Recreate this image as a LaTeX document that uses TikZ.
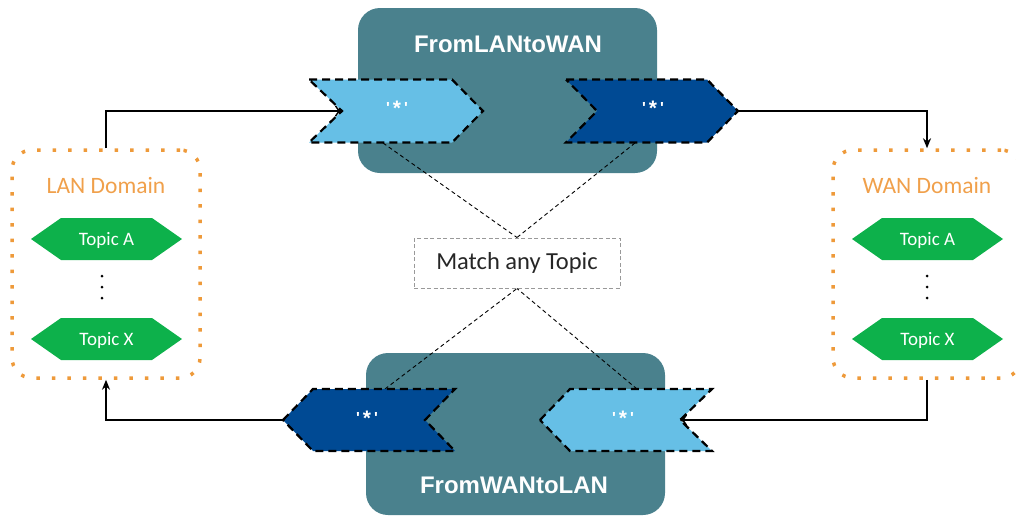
\documentclass[tikz,border=0pt]{standalone}
\usepackage{fontspec}
\setmainfont{Carlito}
\newfontfamily\arialfont{Liberation Sans}
\usetikzlibrary{arrows.meta,calc}
\definecolor{tealbox}{HTML}{4A818D}
\definecolor{lightchev}{HTML}{66BFE6}
\definecolor{darkchev}{HTML}{004A94}
\definecolor{topicgreen}{HTML}{0DB14B}
\definecolor{domorange}{HTML}{F0A04B}
\definecolor{dotorange}{HTML}{EE9A3A}
\tikzset{
  procbox/.style={fill=tealbox, rounded corners=22pt, inner sep=0pt},
  proctitle/.style={text=white, font=\arialfont\bfseries\fontsize{24}{28}\selectfont, inner sep=0pt},
  chevline/.style={draw=black, line width=2.2pt, dash pattern=on 8pt off 5pt},
  startext/.style={text=white, font=\arialfont\bfseries\fontsize{16}{18}\selectfont, inner sep=0pt},
  dombox/.style={draw=dotorange, line width=3.5pt, dash pattern=on 3.5pt off 12pt, rounded corners=20pt, inner sep=0pt, minimum width=188pt, minimum height=228pt},
  domlabel/.style={text=domorange, font=\fontsize{23.5}{28}\selectfont, inner sep=0pt},
  topictext/.style={text=white, font=\fontsize{19}{22}\selectfont, inner sep=0pt},
  matchbox/.style={draw=gray!80, line width=1pt, dash pattern=on 4pt off 2.5pt, font=\fontsize{24.5}{28}\selectfont, text=black!85, minimum width=206pt, minimum height=50pt, inner sep=0pt},
  link/.style={draw=black, line width=0.9pt, dash pattern=on 4pt off 3pt},
  flow/.style={draw=black, line width=2pt},
  chevtip/.style={-{To[length=7pt,width=11pt,line width=1.4pt]}},
  domtip/.style={-{Stealth[length=10pt,width=8pt]}}
}
\newcommand{\hexagonat}[2]{%
  \fill[topicgreen] ($(#1,#2)+(-75.5,0)$) -- ($(#1,#2)+(-45.5,-21)$) -- ($(#1,#2)+(45.5,-21)$) -- ($(#1,#2)+(75.5,0)$) -- ($(#1,#2)+(45.5,21)$) -- ($(#1,#2)+(-45.5,21)$) -- cycle;}
\newcommand{\anystar}{\textquotesingle\hspace{3pt}\raisebox{-1.5pt}{\fontsize{21}{22}\selectfont*}\hspace{3pt}\textquotesingle}
\begin{document}
\begin{tikzpicture}[x=1pt,y=-1pt]
\useasboundingbox (0,0) rectangle (1016,517);
% process boxes
\node[procbox, minimum width=299pt, minimum height=165pt] (p1) at (507.5,90.5) {};
\node[procbox, minimum width=299pt, minimum height=162pt] (p2) at (515.5,434) {};
\node[proctitle] (p1t) at (508,44) {FromLANtoWAN};
\node[proctitle] (p2t) at (514,485) {FromWANtoLAN};
% match node and links
\node[matchbox] (match) at (517,263) {Match any Topic};
\coordinate (c1b) at (383,143);
\coordinate (c2b) at (635,143);
\coordinate (c3t) at (385,389);
\coordinate (c4t) at (637,389);
\draw[link] (c1b) -- (match.north);
\draw[link] (c2b) -- (match.north);
\draw[link] (c3t) -- (match.south);
\draw[link] (c4t) -- (match.south);
% chevrons
\path[chevline, fill=lightchev] (309,79.5) -- (452,79.5) -- (483,111) -- (452,142.5) -- (309,142.5) -- (342,111) -- cycle;
\path[chevline, fill=darkchev] (566,79.5) -- (707,79.5) -- (738,111) -- (707,142.5) -- (566,142.5) -- (597,111) -- cycle;
\path[chevline, fill=darkchev] (283,420) -- (313,389) -- (455,389) -- (425,420) -- (455,451) -- (313,451) -- cycle;
\path[chevline, fill=lightchev] (540,420) -- (570,389) -- (712,389) -- (680,420) -- (712,451) -- (570,451) -- cycle;
\node[startext] (c1) at (397,108) {\anystar};
\node[startext] (c2) at (653,108) {\anystar};
\node[startext] (c3) at (367,418) {\anystar};
\node[startext] (c4) at (623,418) {\anystar};
\coordinate (c1in) at (342,111);
\coordinate (c2out) at (738,111);
\coordinate (c3out) at (283,420);
\coordinate (c4in) at (680,420);
% domains
\node[dombox] (lan) at (106,264) {};
\node[dombox] (wan) at (927,264) {};
\node[domlabel] (lanl) at (106,185) {LAN Domain};
\node[domlabel] (wanl) at (927,185) {WAN Domain};
\hexagonat{106.5}{239}
\hexagonat{106.5}{339}
\hexagonat{927.5}{239}
\hexagonat{927.5}{339}
\node[topictext] (la) at (106.5,240) {Topic A};
\node[topictext] (lx) at (106.5,340) {Topic X};
\node[topictext] (wa) at (927.5,240) {Topic A};
\node[topictext] (wx) at (927.5,340) {Topic X};
\foreach \yy in {276,287,298} {
  \fill (102,\yy) circle (1.5pt);
  \fill (927,\yy) circle (1.5pt);
}
% flows
\draw[flow, chevtip] (lan.north) |- (c1in);
\draw[flow, domtip] (c2out) -| (wan.north);
\draw[flow, chevtip] (wan.south) |- (c4in);
\draw[flow, domtip] (c3out) -| (lan.south);
\end{tikzpicture}
\end{document}
